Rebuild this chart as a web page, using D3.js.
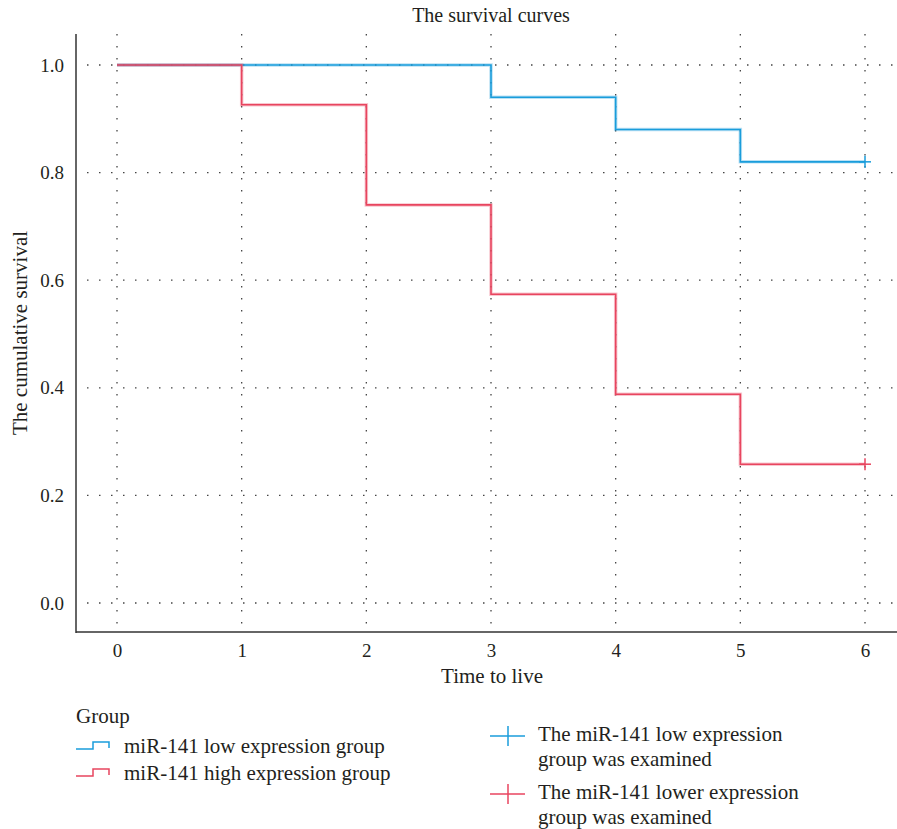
<!DOCTYPE html>
<html>
<head>
<meta charset="utf-8">
<script src="https://cdn.jsdelivr.net/npm/d3@7"></script>
<style>
  body { margin: 0; background: #fff; }
  text { font-family: "Liberation Serif", "DejaVu Serif", serif; fill: #231f20; }
  .grid line { stroke: #444; stroke-dasharray: 1.5 10.5; stroke-width: 1.3; }
</style>
</head>
<body>
<script>
// data
var times = [0, 1, 2, 3, 4, 5, 6];
var lowSurvival = [1.0, 1.0, 1.0, 0.94, 0.88, 0.82, 0.82];
var highSurvival = [1.0, 0.926, 0.74, 0.574, 0.388, 0.258, 0.258];
var yTicks = [0.0, 0.2, 0.4, 0.6, 0.8, 1.0];
var censorTime = 6;
var legendGroups = ["miR-141 low expression group", "miR-141 high expression group"];
var legendCensor = [["The miR-141 low expression", "group was examined"],
                    ["The miR-141 lower expression", "group was examined"]];

var blue = "#1a9ddb", red = "#e8455f";

var W = 897, H = 829;
var svg = d3.select("body").append("svg")
    .attr("width", W)
    .attr("height", H);

var x = d3.scaleLinear().domain([0, 6]).range([117, 865]);
var y = d3.scaleLinear().domain([0, 1]).range([603, 65]);

var plotTop = 34, plotBottom = 632, plotLeft = 76, plotRight = 897;

// grid
var grid = svg.append("g").attr("class", "grid");
grid.selectAll(".gv").data(times).enter().append("line")
    .attr("x1", d => x(d)).attr("x2", d => x(d))
    .attr("y1", plotTop).attr("y2", plotBottom);
grid.selectAll(".gh").data(yTicks).enter().append("line")
    .attr("x1", plotLeft + 11).attr("x2", plotRight)
    .attr("y1", d => y(d)).attr("y2", d => y(d));

// axes
var xAxis = svg.append("g")
    .attr("transform", "translate(0," + plotBottom + ")")
    .call(d3.axisBottom(x).tickValues(times).tickSize(0).tickPadding(12).tickFormat(d3.format("d")));
xAxis.select(".domain").remove();
xAxis.selectAll("text").style("font-size", "19px");

var yAxis = svg.append("g")
    .attr("transform", "translate(" + plotLeft + ",0)")
    .call(d3.axisLeft(y).tickValues(yTicks).tickSize(0).tickPadding(12).tickFormat(d3.format(".1f")));
yAxis.select(".domain").remove();
yAxis.selectAll("text").style("font-size", "19px");

svg.append("line").attr("x1", plotLeft).attr("x2", plotLeft).attr("y1", plotTop).attr("y2", plotBottom + 1)
    .attr("stroke", "#333").attr("stroke-width", 1.5);
svg.append("line").attr("x1", plotLeft).attr("x2", plotRight).attr("y1", plotBottom).attr("y2", plotBottom)
    .attr("stroke", "#333").attr("stroke-width", 1.5);

// curves
var line = d3.line().x(d => x(d[0])).y(d => y(d[1])).curve(d3.curveStepAfter);
function drawCurve(vals, color) {
  var pts = times.map((t, i) => [t, vals[i]]);
  svg.append("path").datum(pts)
      .attr("fill", "none").attr("stroke", color).attr("stroke-opacity", 0.3).attr("stroke-width", 3.5)
      .attr("d", line);
  svg.append("path").datum(pts)
      .attr("fill", "none").attr("stroke", color).attr("stroke-width", 1.6)
      .attr("d", line);
  var cy = y(vals[vals.length - 1]);
  svg.append("line").attr("x1", x(censorTime) - 6).attr("x2", x(censorTime) + 6)
      .attr("y1", cy).attr("y2", cy).attr("stroke", color).attr("stroke-width", 1.5);
  svg.append("line").attr("x1", x(censorTime)).attr("x2", x(censorTime))
      .attr("y1", cy - 6).attr("y2", cy + 6).attr("stroke", color).attr("stroke-width", 1.5);
}
drawCurve(lowSurvival, blue);
drawCurve(highSurvival, red);

// titles
svg.append("text").attr("x", 491).attr("y", 22).attr("text-anchor", "middle")
    .style("font-size", "20px").text("The survival curves");
svg.append("text").attr("x", 492).attr("y", 683).attr("text-anchor", "middle")
    .style("font-size", "21px").text("Time to live");
svg.append("text").attr("transform", "translate(27,333) rotate(-90)").attr("text-anchor", "middle")
    .style("font-size", "21px").text("The cumulative survival");

// legend
svg.append("text").attr("x", 76).attr("y", 723).style("font-size", "21px").text("Group");
var colors = [blue, red];
legendGroups.forEach(function(g, i) {
  var ly = 749 + i * 27;
  svg.append("path")
      .attr("d", "M76," + ly + "H93V" + (ly - 7) + "H109V" + (ly - 1))
      .attr("fill", "none").attr("stroke", colors[i]).attr("stroke-width", 1.5);
  svg.append("text").attr("x", 124).attr("y", ly + 4).style("font-size", "21px").text(g);
});
legendCensor.forEach(function(lines, i) {
  var ly = 736 + i * 58;
  svg.append("line").attr("x1", 490).attr("x2", 525).attr("y1", ly).attr("y2", ly)
      .attr("stroke", colors[i]).attr("stroke-width", 1.5);
  svg.append("line").attr("x1", 508).attr("x2", 508).attr("y1", ly - 10).attr("y2", ly + 10)
      .attr("stroke", colors[i]).attr("stroke-width", 1.5);
  lines.forEach(function(t, j) {
    svg.append("text").attr("x", 538).attr("y", ly + 5 + j * 25).style("font-size", "21px").text(t);
  });
});
</script>
</body>
</html>
